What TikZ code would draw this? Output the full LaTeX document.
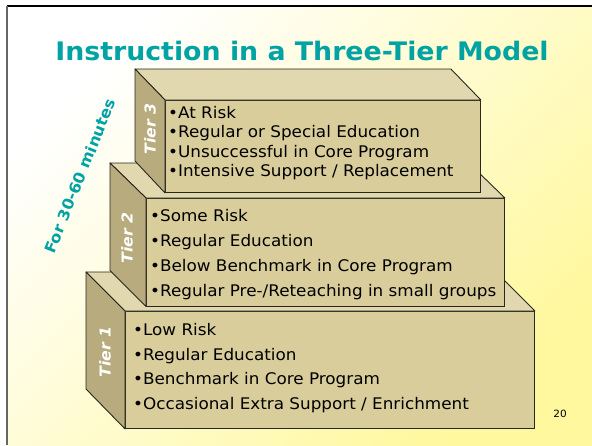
\documentclass[tikz,border=0pt]{standalone}
\usepackage{fontspec}
\setmainfont{DejaVu Sans}[FakeStretch=1.05]
\usetikzlibrary{calc}
\definecolor{teal1}{RGB}{0,163,163}
\definecolor{frontc}{RGB}{217,205,155}
\definecolor{topc}{RGB}{225,216,176}
\definecolor{sidec}{RGB}{184,171,126}
\definecolor{bgY}{RGB}{255,248,158}
\definecolor{edgec}{RGB}{40,40,30}
\tikzset{
  front/.style={draw=edgec, line width=0.9pt, fill=frontc, inner sep=0pt, anchor=north west},
  face/.style={draw=edgec, line width=0.9pt, line join=round},
  items/.style={anchor=west, align=left, inner sep=0pt, text=black},
  tierlabel/.style={rotate=90, text=white, font=\fontsize{15}{15}\selectfont\bfseries\itshape, inner sep=0pt}
}
\begin{document}
\begin{tikzpicture}[x=1pt,y=-1pt]
\useasboundingbox (0,0) rectangle (592,445);
\fill[white] (0,0) rectangle (592,445);
\shade[top color=white, bottom color=bgY, shading angle=45] (7,6) rectangle (592,445);
\draw[black, line width=1.5pt] (7,6) -- (592,6);
\draw[black!60, line width=2pt] (7,6) -- (7,445);

\node[text=teal1, font=\fontsize{25.5}{25.5}\selectfont\bfseries] (title) at (302,51) {Instruction in a Three-Tier Model};

% Tier 1
\node[front, minimum width=409pt, minimum height=117pt] (t1) at (125,311) {};
\draw[face, fill=topc] (t1.north west) -- ++(-39,-39) -- ($(t1.north east)+(-39,-39)$) -- (t1.north east) -- cycle;
\draw[face, fill=sidec] (t1.north west) -- ++(-39,-39) -- ++(0,117) -- (t1.south west) -- cycle;
\node[tierlabel] (l1) at (105,352) {Tier 1};
\node[items, font=\fontsize{16}{24.8}\selectfont] (i1) at (133,368) {•Low Risk\\•Regular Education\\•Benchmark in Core Program\\•Occasional Extra Support / Enrichment};

% Tier 2
\node[front, minimum width=358pt, minimum height=107.5pt] (t2) at (146,198) {};
\draw[face, fill=topc] (t2.north west) -- ++(-36,-35) -- ($(t2.north east)+(-36,-35)$) -- (t2.north east) -- cycle;
\draw[face, fill=sidec] (t2.north west) -- ++(-36,-35) -- ++(0,107.5) -- (t2.south west) -- cycle;
\node[tierlabel] (l2) at (127,238) {Tier 2};
\node[items, font=\fontsize{16}{24.8}\selectfont] (i2) at (150,254.5) {•Some Risk\\•Regular Education\\•Below Benchmark in Core Program\\•Regular Pre-/Reteaching in small groups};

% Tier 3
\node[front, minimum width=315pt, minimum height=92pt] (t3) at (165,100) {};
\draw[face, fill=topc] (t3.north west) -- ++(-30,-31) -- ($(t3.north east)+(-30,-31)$) -- (t3.north east) -- cycle;
\draw[face, fill=sidec] (t3.north west) -- ++(-30,-31) -- ++(0,92) -- (t3.south west) -- cycle;
\node[tierlabel] (l3) at (150,129) {Tier 3};
\node[items, font=\fontsize{16}{19.5}\selectfont] (i3) at (168,143) {•At Risk\\•Regular or Special Education\\•Unsuccessful in Core Program\\•Intensive Support / Replacement};

\node[rotate=68, text=teal1, font=\fontsize{15.3}{15.3}\selectfont\bfseries] (mins) at (80,176) {For 30-60 minutes};
\node[font=\fontsize{10}{10}\selectfont] (pg) at (560,414) {20};
\end{tikzpicture}
\end{document}
